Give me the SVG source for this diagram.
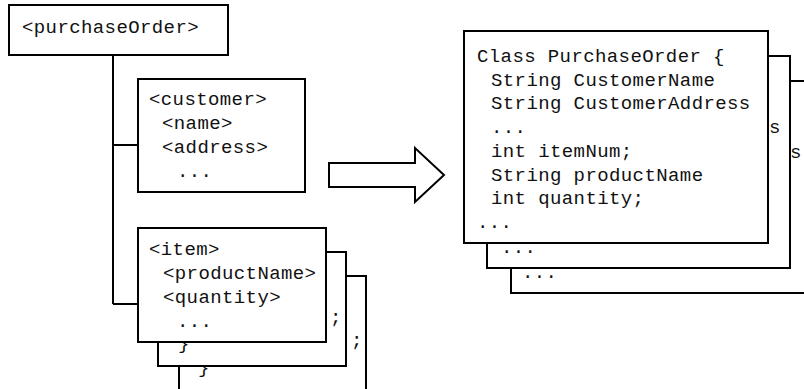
<svg xmlns="http://www.w3.org/2000/svg" width="804" height="389" viewBox="0 0 804 389">
<style>
.box{fill:#fff;stroke:#000;stroke-width:2}
.ln{fill:none;stroke:#000;stroke-width:2}
text{font-family:"Liberation Mono","Courier New",monospace;font-size:19px;letter-spacing:0.4px;fill:#111}
</style>
<rect width="804" height="389" fill="#fff"/>
<g id="connectors">
<path class="ln" d="M113,55 V304 M113,145 H138 M113,304 H138"/>
<polygon id="arrow" class="box" points="329,163 415,163 415,148 444,175 415,202 415,187 329,187"/>
</g>
<g id="purchaseOrder">
<rect class="box" x="9" y="5" width="219" height="50"/>
<text x="22" y="33">&lt;purchaseOrder&gt;</text>
</g>
<g id="customer">
<rect class="box" x="138" y="79" width="167" height="113"/>
<text x="149" y="105">&lt;customer&gt;</text>
<text x="162" y="129">&lt;name&gt;</text>
<text x="162" y="153">&lt;address&gt;</text>
<text x="177" y="177">...</text>
</g>
<g id="item">
<g id="item-3">
<rect class="box" x="179" y="276" width="187" height="130"/>
<text x="351" y="346">;</text>
<text x="198" y="373">}</text>
</g>
<g id="item-2">
<rect class="box" x="158" y="252" width="188" height="114"/>
<text x="330" y="323">;</text>
<text x="178" y="349">}</text>
</g>
<g id="item-1">
<rect class="box" x="138" y="228" width="188" height="114"/>
<text x="149" y="255">&lt;item&gt;</text>
<text x="163" y="279">&lt;productName&gt;</text>
<text x="163" y="303">&lt;quantity&gt;</text>
<text x="177" y="327">...</text>
</g>
</g>
<g id="PurchaseOrderClass">
<g id="class-3">
<rect class="box" x="511" y="81" width="310" height="212"/>
<text x="790" y="158">s</text>
<text x="522" y="278">...</text>
</g>
<g id="class-2">
<rect class="box" x="487" y="56" width="303" height="212"/>
<text x="769" y="133">s</text>
<text x="501" y="253">...</text>
</g>
<g id="class-1">
<rect class="box" x="464" y="31" width="304" height="212"/>
<text x="477" y="62">Class PurchaseOrder {</text>
<text x="491" y="85.7">String CustomerName</text>
<text x="491" y="109.4">String CustomerAddress</text>
<text x="491" y="133.1">...</text>
<text x="491" y="156.8">int itemNum;</text>
<text x="491" y="180.5">String productName</text>
<text x="491" y="204.2">int quantity;</text>
<text x="477" y="227.9">...</text>
</g>
</g>
</svg>
